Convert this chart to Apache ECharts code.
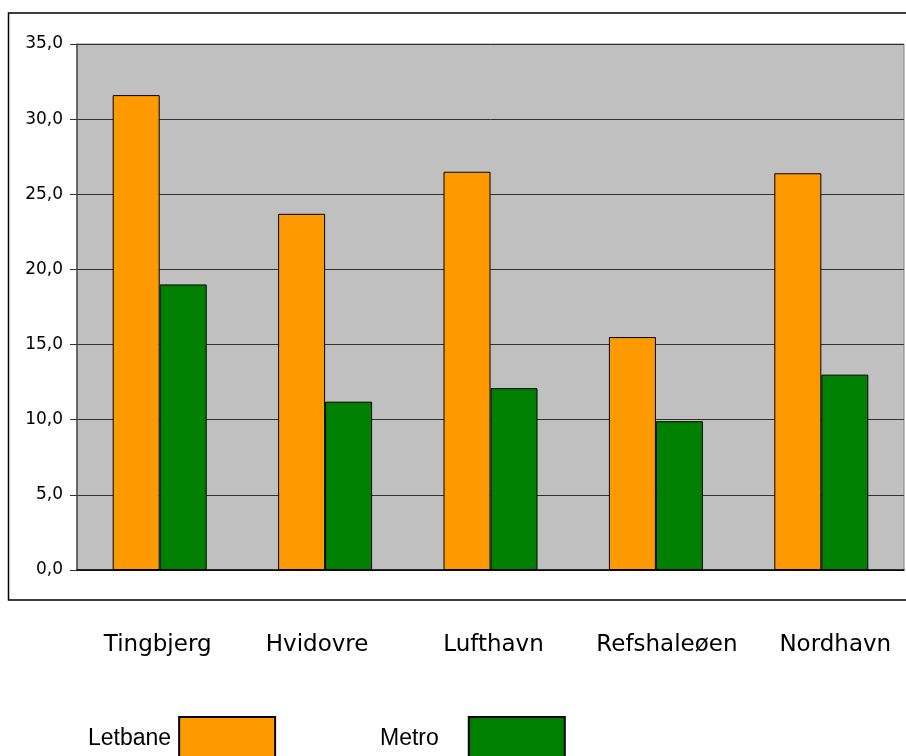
<!DOCTYPE html>
<html>
<head>
<meta charset="utf-8">
<script src="https://cdn.jsdelivr.net/npm/echarts@6/dist/echarts.min.js"></script>
<style>
html,body{margin:0;padding:0;background:#fff;}
#chart{width:906px;height:756px;}
</style>
</head>
<body>
<div id="chart"></div>
<script>
var categories = ['Tingbjerg', 'Hvidovre', 'Lufthavn', 'Refshaleøen', 'Nordhavn'];
var letbane = [31.6, 23.7, 26.5, 15.5, 26.4];
var metro = [19.0, 11.2, 12.1, 9.9, 13.0];
var seriesNames = ['Letbane', 'Metro'];
var yTicks = [0, 5, 10, 15, 20, 25, 30, 35];

var labelShift = [-2, -8, 3, 11, 14];
var rich = {};
labelShift.forEach(function (d, i) {
  rich['c' + i] = {
    fontFamily: 'DejaVu Sans', fontSize: 23, color: '#000',
    padding: d >= 0 ? [0, 0, 0, 2 * d] : [0, -2 * d, 0, 0]
  };
});

var chart = echarts.init(document.getElementById('chart'));
chart.setOption({
  animation: false,
  backgroundColor: '#fff',
  graphic: [{
    type: 'rect', silent: true, z: -10,
    shape: { x: 8.5, y: 13, width: 910, height: 587 },
    style: { fill: 'none', stroke: '#000', lineWidth: 1.5 }
  }],
  grid: {
    left: 77, right: 2, top: 44, bottom: 186,
    show: true, backgroundColor: '#C0C0C0', borderColor: '#808080', borderWidth: 1
  },
  legend: [{
    data: [seriesNames[0]], left: 88, top: 716, padding: 0, align: 'right',
    icon: 'rect', itemWidth: 96, itemHeight: 44,
    itemStyle: { borderColor: '#000', borderWidth: 2 },
    textStyle: { fontFamily: 'Liberation Sans', fontSize: 23, color: '#000', padding: [0, 3, 0, 0] }
  }, {
    data: [seriesNames[1]], left: 380, top: 716, padding: 0, align: 'right',
    icon: 'rect', itemWidth: 96, itemHeight: 44,
    itemStyle: { borderColor: '#000', borderWidth: 2 },
    textStyle: { fontFamily: 'Liberation Sans', fontSize: 23, color: '#000', padding: [0, 25, 0, 0] }
  }],
  xAxis: {
    type: 'category', data: categories,
    axisLine: { lineStyle: { color: '#000', width: 1.5 } },
    axisTick: { show: false },
    axisLabel: {
      margin: 64, interval: 0,
      formatter: function (v, i) { return '{c' + i + '|' + v + '}'; },
      rich: rich
    }
  },
  yAxis: {
    type: 'value', min: yTicks[0], max: yTicks[yTicks.length - 1], interval: yTicks[1] - yTicks[0],
    axisLine: { show: true, lineStyle: { color: '#505050', width: 1.5 } },
    axisTick: { show: true, length: 7, lineStyle: { color: '#303030' } },
    axisLabel: {
      margin: 14, fontFamily: 'DejaVu Sans', fontSize: 17, color: '#000',
      formatter: function (v) { return v.toFixed(1).replace('.', ','); }
    },
    splitLine: { lineStyle: { color: '#303030', width: 1 } }
  },
  series: [{
    name: seriesNames[0], type: 'bar', data: letbane, barWidth: 47, barGap: '0%',
    itemStyle: { color: '#FF9900', borderColor: '#000', borderWidth: 1 }
  }, {
    name: seriesNames[1], type: 'bar', data: metro, barWidth: 47, barGap: '0%',
    itemStyle: { color: '#008000', borderColor: '#000', borderWidth: 1 }
  }]
});
</script>
</body>
</html>
